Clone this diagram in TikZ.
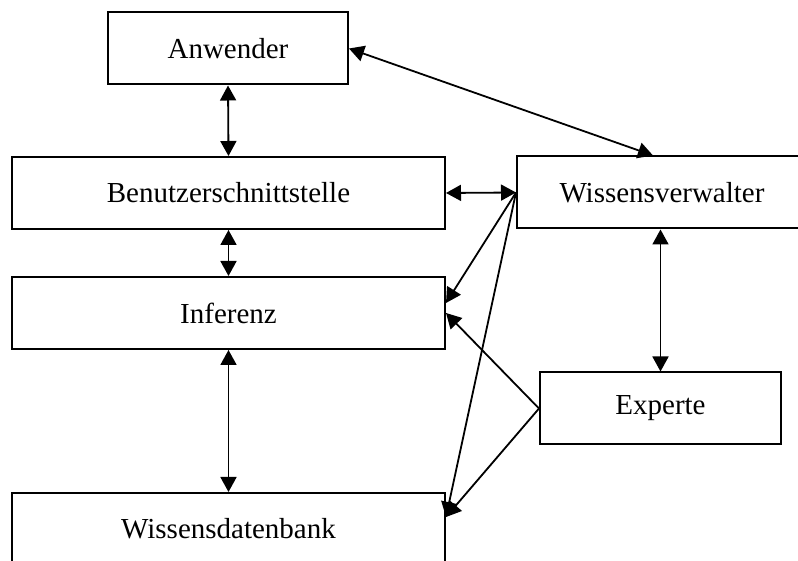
\documentclass[tikz,border=0pt]{standalone}
\usepackage{fontspec}
\setmainfont{Liberation Serif}
\usepackage{tikz}
\usetikzlibrary{arrows.meta, calc}

\begin{document}
\begin{tikzpicture}[x=0.5pt, y=0.5pt,
  >={Triangle[length=7.5pt, width=8pt]},
  box/.style={draw, line width=1pt, inner sep=0pt, minimum height=36pt,
              align=center, font=\fontsize{14.5}{17}\selectfont},
  link/.style={<->, line width=0.9pt},
  feed/.style={->, line width=0.9pt}]
  \useasboundingbox (0,0) rectangle (798,561);
  \node[box, minimum width=120pt] (anw) at (228,512.5) {Anwender};
  \node[box, minimum width=216.5pt] (bs) at (228.5,368) {Benutzerschnittstelle};
  \node[box, minimum width=216.5pt] (inf) at (228.5,248) {Inferenz};
  \node[box, minimum width=216.5pt] (wdb) at (228.5,32) {Wissensdatenbank};
  \node[box, minimum width=145pt] (wv) at (662,368.5) {Wissensverwalter};
  \node[box, minimum width=120.5pt] (ex) at (660.5,152.5) {Experte};
  % Verbindungen
  \draw[link] (anw.south) -- (bs.north);
  \draw[link] (bs.south) -- (inf.north);
  \draw[link] (inf.south) -- (wdb.north);
  \draw[link] (bs.east) -- (wv.west);
  \draw[link] (anw.east) -- ($(wv.north)+(-9,0)$);
  \draw[link] (ex.north |- wv.south) -- (ex.north);
  \draw[feed] (wv.west) -- ($(inf.east)+(0,10)$);
  \draw[feed] (wv.west) -- ($(wdb.east)+(0,12)$);
  \draw[feed] (ex.west) -- (inf.east);
  \draw[feed] (ex.west) -- ($(wdb.east)+(0,12)$);
\end{tikzpicture}
\end{document}
